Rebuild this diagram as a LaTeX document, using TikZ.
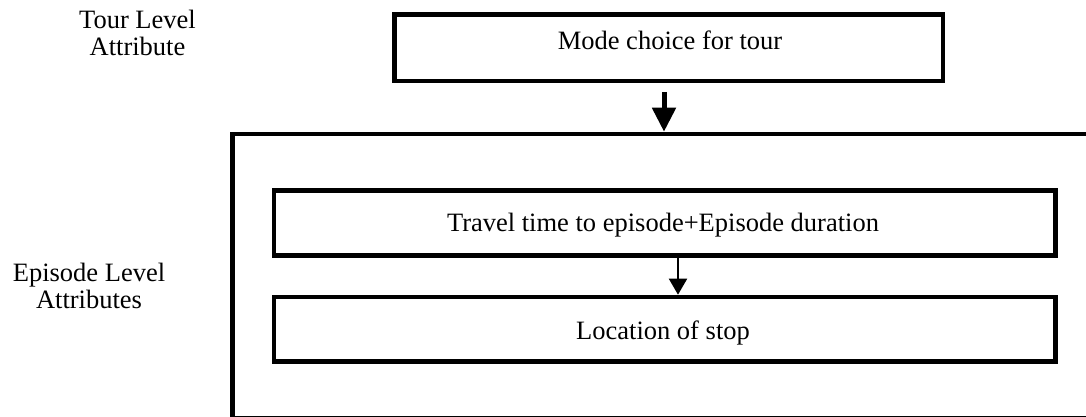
\documentclass[tikz,border=0pt]{standalone}
\usepackage{fontspec}
\setmainfont{Liberation Serif}
\usetikzlibrary{arrows.meta}
\begin{document}
\begin{tikzpicture}[x=1pt,y=-1pt,
  box/.style={draw, line width=4.6pt, inner sep=0pt},
  txt/.style={font=\fontsize{26.5}{27}\selectfont, anchor=base, inner sep=0pt},
  bigarrow/.style={line width=5pt, -{Triangle[length=24pt,width=23pt]}},
  smallarrow/.style={line width=2pt, -{Triangle[length=16pt,width=18pt]}}]
\useasboundingbox (0,0) rectangle (1086,417);
\begin{scope}
\clip (0,0) rectangle (1086,417);
\node[box, minimum width=887.5pt, minimum height=284.5pt] (outer) at (676.25,276.25) {};
\end{scope}
\node[box, minimum width=548.5pt, minimum height=66.5pt] (mode) at (668.75,47.75) {};
\node[box, minimum width=781.5pt, minimum height=65pt] (travel) at (664.75,223) {};
\node[box, minimum width=781.5pt, minimum height=64.5pt] (loc) at (664.75,329.25) {};
\node[txt] (modet) at (670,50) {Mode choice for tour};
\node[txt] (travelt) at (663,231) {Travel time to episode+Episode duration};
\node[txt] (loct) at (663,339) {Location of stop};
\node[txt] (tl1) at (137.5,29) {Tour Level};
\node[txt] (tl2) at (137.5,56) {Attribute};
\node[txt] (el1) at (89,281) {Episode Level};
\node[txt] (el2) at (89,308) {Attributes};
\coordinate (a1) at (664,92);
\coordinate (a2x) at (678,0);
\draw[bigarrow] (a1) -- (a1 |- outer.north);
\draw[smallarrow] (travel.south -| a2x) -- (loc.north -| a2x);
\end{tikzpicture}
\end{document}
